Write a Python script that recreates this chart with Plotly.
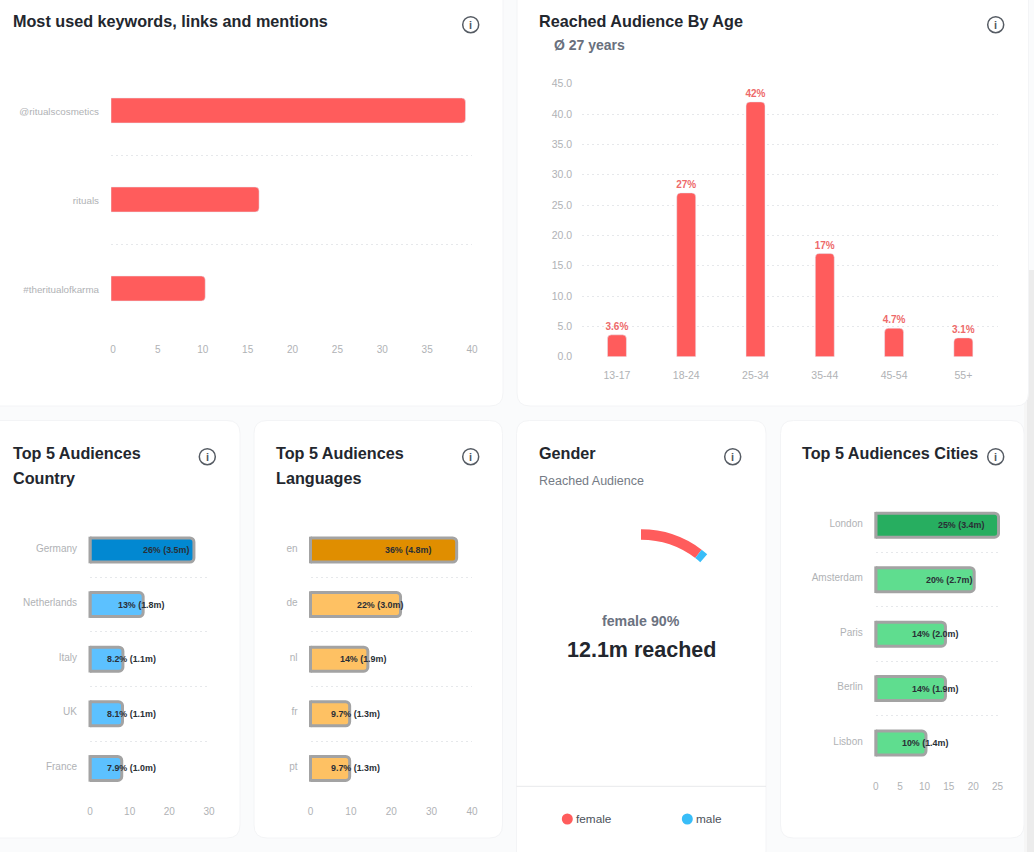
import plotly.graph_objects as go

W = 1034
H = 852

keywords = ['@ritualscosmetics', 'rituals', '#theritualofkarma']
keyword_counts = [39.5, 16.5, 10.5]
keyword_ticks = [0, 5, 10, 15, 20, 25, 30, 35, 40]

ages = ['13-17', '18-24', '25-34', '35-44', '45-54', '55+']
age_shares = [3.6, 27, 42, 17, 4.7, 3.1]
age_labels = ['3.6%', '27%', '42%', '17%', '4.7%', '3.1%']
age_ticks = [0, 5, 10, 15, 20, 25, 30, 35, 40, 45]

countries = ['Germany', 'Netherlands', 'Italy', 'UK', 'France']
country_shares = [26.2, 13.4, 8.3, 8.2, 8.0]
country_labels = ['26% (3.5m)', '13% (1.8m)', '8.2% (1.1m)', '8.1% (1.1m)', '7.9% (1.0m)']
country_ticks = [0, 10, 20, 30]

languages = ['en', 'de', 'nl', 'fr', 'pt']
language_shares = [36.2, 22.3, 14.2, 9.7, 9.7]
language_labels = ['36% (4.8m)', '22% (3.0m)', '14% (1.9m)', '9.7% (1.3m)', '9.7% (1.3m)']
language_ticks = [0, 10, 20, 30, 40]

cities = ['London', 'Amsterdam', 'Paris', 'Berlin', 'Lisbon']
city_shares = [25.2, 20.2, 14.3, 14.3, 10.3]
city_labels = ['25% (3.4m)', '20% (2.7m)', '14% (2.0m)', '14% (1.9m)', '10% (1.4m)']
city_ticks = [0, 5, 10, 15, 20, 25]

genders = ['female', 'male']
gender_shares = [90, 10]
gauge_rest = 772

FONT = 'Liberation Sans'
RED = '#ff5c5c'
BLUE = '#38bdf8'
TITLE = '#23272e'
TICK = '#b0b2b5'
GRID = '#e6e8eb'
OUTLINE = '#a3a3a3'


def px(x):
    return x / W


def py(y):
    return 1 - y / H


def card(x0, y0, x1, y1, r=13):
    path = (f'M {px(x0 + r)} {py(y0)} L {px(x1 - r)} {py(y0)} '
            f'Q {px(x1)} {py(y0)} {px(x1)} {py(y0 + r)} L {px(x1)} {py(y1 - r)} '
            f'Q {px(x1)} {py(y1)} {px(x1 - r)} {py(y1)} L {px(x0 + r)} {py(y1)} '
            f'Q {px(x0)} {py(y1)} {px(x0)} {py(y1 - r)} L {px(x0)} {py(y0 + r)} '
            f'Q {px(x0)} {py(y0)} {px(x0 + r)} {py(y0)} Z')
    return dict(type='path', path=path, xref='paper', yref='paper', layer='below',
                fillcolor='white', line=dict(color='#f3f4f6', width=1))


def strip(x0, x1, y0, color):
    return dict(type='rect', xref='paper', yref='paper', x0=px(x0), x1=px(x1), y0=py(y0), y1=py(852),
                layer='below', fillcolor=color, line=dict(width=0))


def text(x, y, s, size=16.2, color=TITLE, bold=True, anchor='left'):
    return dict(x=px(x), y=py(y), xref='paper', yref='paper', text=s, showarrow=False,
                xanchor=anchor, yanchor='middle', borderpad=0,
                font=dict(family=FONT, size=size, color=color, weight=700 if bold else 400))


def circle(cx, cy, r, fill='rgba(0,0,0,0)', line=None):
    return dict(type='circle', xref='paper', yref='paper', x0=px(cx - r), x1=px(cx + r),
                y0=py(cy - r), y1=py(cy + r), fillcolor=fill,
                line=line or dict(width=0))


def axis_font():
    return dict(family=FONT, size=10, color=TICK)


shapes = [
    strip(1024, 1027, 300, '#f6f6f6'),
    strip(1027, 1034, 270, '#ececec'),
    card(-20, -20, 503, 406),
    card(517, -20, 1028.5, 406),
    card(-20, 420.5, 240, 838),
    card(254, 420.5, 502.5, 838),
    card(516.5, 420.5, 766, 864),
    card(780.5, 420.5, 1024, 838),
    dict(type='line', xref='paper', yref='paper', x0=px(516.5), x1=px(766), y0=py(786.3), y1=py(786.3),
         line=dict(color='#e8e9ec', width=1)),
    circle(567.3, 819, 5.5, fill=RED),
    circle(687.3, 819, 5.5, fill=BLUE),
]
annotations = [
    text(12, 21.5, 'Most used keywords, links and mentions'),
    text(538, 21.5, 'Reached Audience By Age'),
    text(552.5, 45, 'Ø 27 years', size=14, color='#69707d'),
    text(12, 453, 'Top 5 Audiences'),
    text(12, 478, 'Country'),
    text(275, 453, 'Top 5 Audiences'),
    text(275, 478, 'Languages'),
    text(538, 453, 'Gender'),
    text(538, 480.7, 'Reached Audience', size=12.5, color='#757b85', bold=False),
    text(800.5, 453, 'Top 5 Audiences Cities'),
    text(641, 621, 'female 90%', size=14.2, color='#6b7280', anchor='center'),
    text(641, 650, '12.1m reached', size=21.5, anchor='center'),
    text(574.5, 819, genders[0], size=11.8, color='#4b5159', bold=False),
    text(694.5, 819, genders[1], size=11.8, color='#4b5159', bold=False),
]
for cx, cy in [(470.7, 24.7), (995.7, 24.7), (207.3, 456.7), (470.7, 456.7), (732.7, 456.7), (995.7, 456.7)]:
    shapes.append(circle(cx, cy, 8, line=dict(color='#555b63', width=1.5)))
    annotations.append(text(cx, cy, 'i', size=11, color='#555b63', anchor='center'))

fig = go.Figure()
layout = {}


def hbar(n, cats, vals, labels, ticks, colors, box, x_max, tick_len=7):
    x0, x1, y0, y1 = box
    xa = f'x{n}'
    ya = f'y{n}'
    fig.add_trace(go.Bar(
        y=cats, x=vals, orientation='h', xaxis=xa, yaxis=ya, width=24 / ((y1 - y0) / len(cats)),
        cliponaxis=False, marker=dict(color=colors, line=dict(color=OUTLINE, width=3)), hoverinfo='skip'))
    # rounded bars lose the outline on their base side, so it is drawn again here
    fig.add_trace(go.Scatter(
        y=cats, x=[0] * len(cats), mode='markers', xaxis=xa, yaxis=ya, cliponaxis=False, hoverinfo='skip',
        marker=dict(symbol='line-ns', size=19, line=dict(color=OUTLINE, width=3))))
    layout[f'xaxis{n}'] = dict(domain=[px(x0), px(x1)], range=[0, x_max], anchor=ya, tickvals=ticks,
                               showgrid=False, zeroline=False, showline=False, ticks='outside', ticklen=tick_len,
                               tickcolor='rgba(0,0,0,0)', tickfont=axis_font())
    layout[f'yaxis{n}'] = dict(domain=[py(y1), py(y0)], anchor=xa, type='category', categoryarray=cats,
                               categoryorder='array', range=[len(cats) - 0.5, -0.5], tickson='boundaries',
                               showgrid=True, gridcolor=GRID, griddash='2px,3px', gridwidth=1, zeroline=False,
                               ticklabelstandoff=12, tickfont=axis_font(), ticklabelshift=2)
    for c, v, s in zip(cats, vals, labels):
        annotations.append(dict(x=v / 2, y=c, xref=xa, yref=ya, text=s, showarrow=False, xanchor='left',
                                yanchor='middle', borderpad=0,
                                font=dict(family=FONT, size=8.9, color='#2a2f36', weight=700)))


# keywords
fig.add_trace(go.Bar(y=keywords, x=keyword_counts, orientation='h', xaxis='x1', yaxis='y1',
                     width=25 / 89, marker=dict(color=RED), hoverinfo='skip'))
layout['xaxis1'] = dict(domain=[px(111), px(472)], range=[0, 40.22], anchor='y1', tickvals=keyword_ticks,
                        showgrid=False, zeroline=False, showline=False, ticks='outside', ticklen=7,
                        ticklabelshift=2, tickcolor='rgba(0,0,0,0)', tickfont=axis_font())
layout['yaxis1'] = dict(domain=[py(333), py(66)], anchor='x1', type='category', categoryarray=keywords,
                        categoryorder='array', range=[2.5, -0.5], tickson='boundaries', showgrid=True,
                        gridcolor=GRID, griddash='2px,3px', gridwidth=1, zeroline=False, ticklabelshift=-1,
                        ticklabelstandoff=11, tickfont=dict(family=FONT, size=9.8, color=TICK))

# age
fig.add_trace(go.Bar(x=ages, y=age_shares, text=age_labels, textposition='outside', cliponaxis=False,
                     constraintext='none', xaxis='x5', yaxis='y5', width=0.274, marker=dict(color=RED),
                     hoverinfo='skip', textangle=0,
                     textfont=dict(family=FONT, size=10, color='#ee6a6a', weight=700)))
layout['xaxis5'] = dict(domain=[px(582.3), px(998)], anchor='y5', type='category', showgrid=False, zeroline=False,
                        showline=False, ticks='outside', ticklen=9, tickcolor='rgba(0,0,0,0)',
                        tickfont=dict(family=FONT, size=10.5, color=TICK))
layout['yaxis5'] = dict(domain=[py(356.7), py(83.7)], range=[0, 45], anchor='x5', tickvals=age_ticks,
                        tickformat='.1f', showgrid=True, gridcolor=GRID, griddash='2px,3px', gridwidth=1,
                        zeroline=False, ticks='outside', ticklen=7, tickcolor='rgba(0,0,0,0)',
                        tickfont=dict(family=FONT, size=10.5, color=TICK))

hbar(2, countries, country_shares, country_labels, country_ticks,
     ['#0288d1'] + ['#5cc1ff'] * 4, (90, 209, 522.7, 795.7), 30, tick_len=6)
hbar(3, languages, language_shares, language_labels, language_ticks,
     ['#e08e00'] + ['#fec163'] * 4, (310.5, 472, 522.7, 795.7), 40, tick_len=6)
hbar(4, cities, city_shares, city_labels, city_ticks,
     ['#27ae60'] + ['#5fdd8f'] * 4, (875.8, 1000, 498, 770.3), 25.5)

# gender arc, the rest of the ring stays empty
fig.add_trace(go.Pie(values=gender_shares + [gauge_rest], labels=genders + ['rest'], sort=False,
                     direction='clockwise', rotation=0, hole=0.895, textinfo='none', hoverinfo='skip',
                     marker=dict(colors=[RED, BLUE, 'rgba(0,0,0,0)'], line=dict(width=0)),
                     domain=dict(x=[px(540.6), px(741.4)], y=[py(730), py(529.3)])))

fig.update_layout(width=W, height=H, margin=dict(l=0, r=0, t=0, b=0, autoexpand=False), paper_bgcolor='#fafbfc',
                  plot_bgcolor='rgba(0,0,0,0)', showlegend=False, barcornerradius=4,
                  shapes=shapes, annotations=annotations, **layout)
fig.write_html("out.html", config=dict(displayModeBar=False), post_script="document.body.style.margin='0'")
